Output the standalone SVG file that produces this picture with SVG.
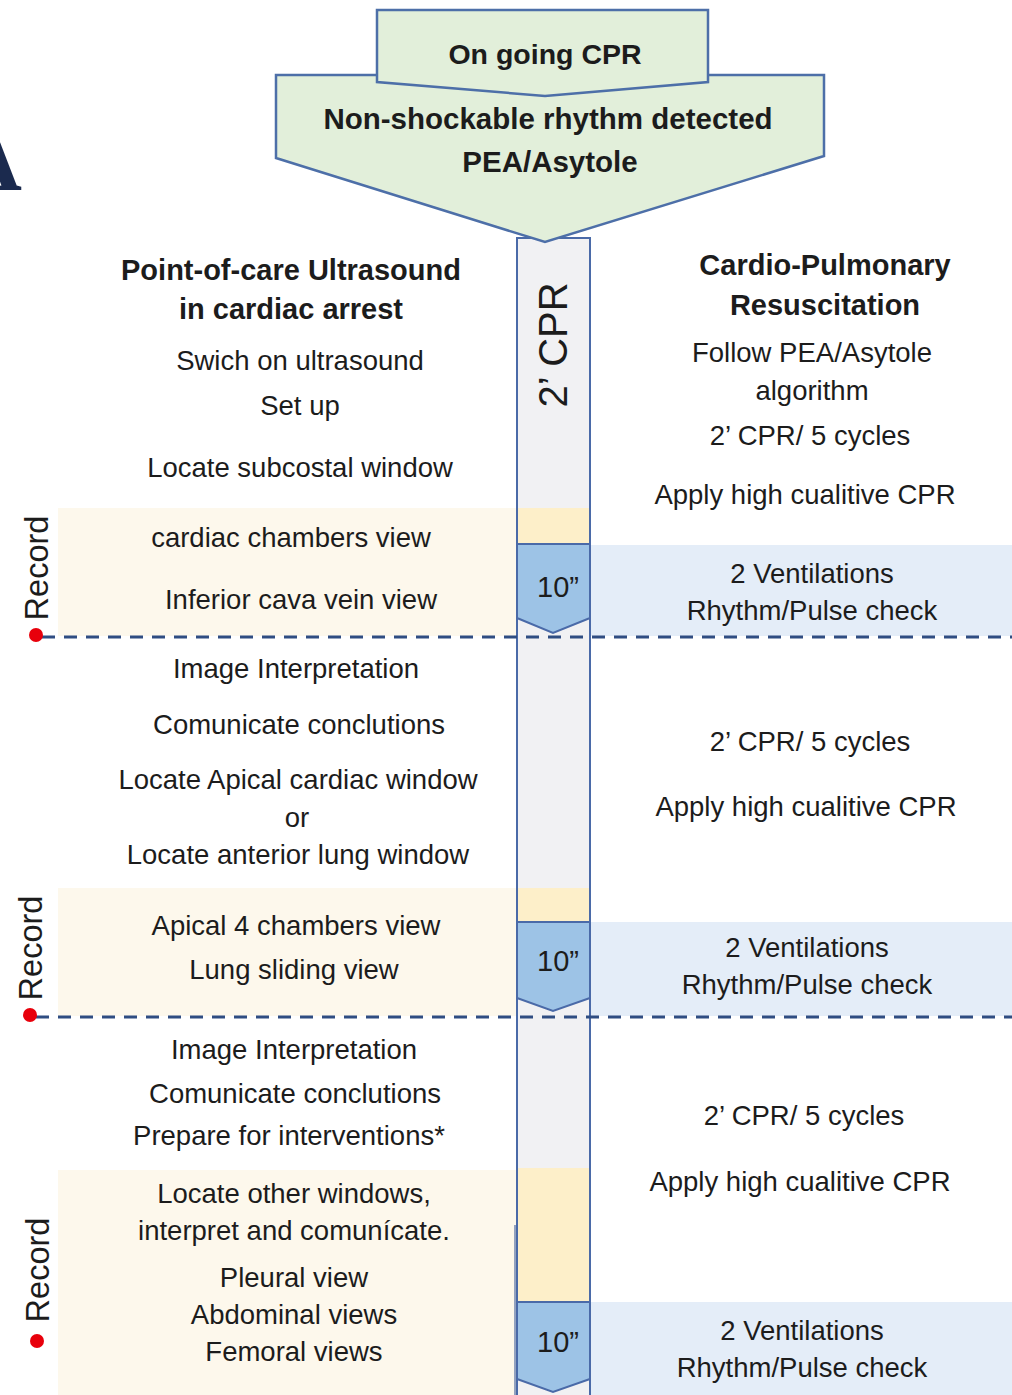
<svg xmlns="http://www.w3.org/2000/svg" width="1012" height="1395" viewBox="0 0 1012 1395">
<style>
text{font-family:"Liberation Sans",Arial,sans-serif;fill:#1c1c1c;font-size:27.5px;text-anchor:middle}
.hdr{font-weight:bold;font-size:29px}
.big{font-size:29.5px;font-weight:bold}
.top{font-size:28.5px;font-weight:bold}
.rec{font-size:32.5px}
.ten{font-size:29px}
.yel{fill:#fdf8ec}
.lb{fill:#e4edf8}
.cy{fill:#fdefc9}
.cb{fill:#9dc3e6;stroke:#4a6aa8;stroke-width:2}
.dash{stroke:#2f4d82;stroke-width:3;stroke-dasharray:13 9;fill:none}
.dot{fill:#e8000b}
.sh{fill:#e2efda;stroke:#4d6fa8;stroke-width:2.5}
</style>
<rect width="1012" height="1395" fill="#ffffff"/>
<text x="22" y="190" style="font-family:'Liberation Serif',serif;font-weight:bold;font-size:92px;text-anchor:end;fill:#1b2a4e">A</text>

<g id="panels">
<rect class="yel" x="58" y="508" width="459" height="128"/>
<rect class="yel" x="58" y="888" width="459" height="128"/>
<rect class="yel" x="58" y="1170" width="459" height="225"/>
<rect class="lb" x="590" y="545" width="422" height="91"/>
<rect class="lb" x="590" y="922" width="422" height="94"/>
<rect class="lb" x="590" y="1302" width="422" height="93"/>
</g>

<g id="column">
<rect x="517" y="238" width="73" height="1170" fill="#f1f1f3" stroke="#4a6aa8" stroke-width="2"/>
<rect class="cy" x="518" y="508" width="71" height="36"/>
<rect class="cy" x="518" y="888" width="71" height="34"/>
<rect class="cy" x="518" y="1168" width="71" height="134"/>
<polygon class="cb" points="517,544 590,544 590,618 553,633 517,618"/>
<polygon class="cb" points="517,922 590,922 590,998 553,1011 517,998"/>
<polygon class="cb" points="517,1302 590,1302 590,1379 553,1392 517,1379"/>
<line x1="515" y1="1225" x2="515" y2="1395" stroke="#6f86b0" stroke-width="1.5"/>
<text transform="translate(567,345) rotate(-90)" style="font-size:40px">2’ CPR</text>
<text class="ten" x="558" y="597">10”</text>
<text class="ten" x="558" y="971">10”</text>
<text class="ten" x="558" y="1352">10”</text>
</g>

<g id="top">
<polygon class="sh" points="276,75 824,75 824,156 545,242 276,158"/>
<polygon class="sh" points="377,10 708,10 708,82 545,96 377,82"/>
<text class="top" x="545" y="64">On going  CPR</text>
<text class="big" x="548" y="129">Non-shockable rhythm detected</text>
<text class="big" x="550" y="172">PEA/Asytole</text>
</g>

<g id="connectors">
<line class="dash" x1="42" y1="637" x2="1012" y2="637"/>
<line class="dash" x1="36" y1="1017" x2="1012" y2="1017"/>
</g>

<g id="record">
<circle class="dot" cx="36" cy="635" r="7"/>
<circle class="dot" cx="30" cy="1015" r="7"/>
<circle class="dot" cx="37" cy="1341" r="7"/>
<text class="rec" transform="translate(48,568) rotate(-90)">Record</text>
<text class="rec" transform="translate(42,948) rotate(-90)">Record</text>
<text class="rec" transform="translate(49,1270) rotate(-90)">Record</text>
</g>

<g id="left-text">
<text class="hdr" x="291" y="280">Point-of-care Ultrasound</text>
<text class="hdr" x="291" y="319">in cardiac arrest</text>
<text x="300" y="370">Swich on ultrasound</text>
<text x="300" y="415">Set up</text>
<text x="300" y="477">Locate subcostal window</text>
<text x="291" y="547">cardiac  chambers view</text>
<text x="301" y="609">Inferior cava vein view</text>
<text x="296" y="678">Image Interpretation</text>
<text x="299" y="734">Comunicate conclutions</text>
<text x="298" y="789">Locate  Apical cardiac window</text>
<text x="297" y="827">or</text>
<text x="298" y="864">Locate anterior lung window</text>
<text x="296" y="935">Apical 4 chambers view</text>
<text x="294" y="979">Lung sliding view</text>
<text x="294" y="1059">Image Interpretation</text>
<text x="295" y="1103">Comunicate conclutions</text>
<text x="289" y="1145">Prepare for interventions*</text>
<text x="294" y="1203">Locate other windows,</text>
<text x="294" y="1240">interpret and comunícate.</text>
<text x="294" y="1287">Pleural view</text>
<text x="294" y="1324">Abdominal views</text>
<text x="294" y="1361">Femoral views</text>
</g>

<g id="right-text">
<text class="hdr" x="825" y="275">Cardio-Pulmonary</text>
<text class="hdr" x="825" y="315">Resuscitation</text>
<text x="812" y="362">Follow PEA/Asytole</text>
<text x="812" y="400">algorithm</text>
<text x="810" y="445">2’ CPR/ 5 cycles</text>
<text x="805" y="504">Apply high cualitive CPR</text>
<text x="812" y="583">2 Ventilations</text>
<text x="812" y="620">Rhythm/Pulse check</text>
<text x="810" y="751">2’ CPR/ 5 cycles</text>
<text x="806" y="816">Apply high cualitive CPR</text>
<text x="807" y="957">2 Ventilations</text>
<text x="807" y="994">Rhythm/Pulse check</text>
<text x="804" y="1125">2’ CPR/ 5 cycles</text>
<text x="800" y="1191">Apply high cualitive CPR</text>
<text x="802" y="1340">2 Ventilations</text>
<text x="802" y="1377">Rhythm/Pulse check</text>
</g>
</svg>
